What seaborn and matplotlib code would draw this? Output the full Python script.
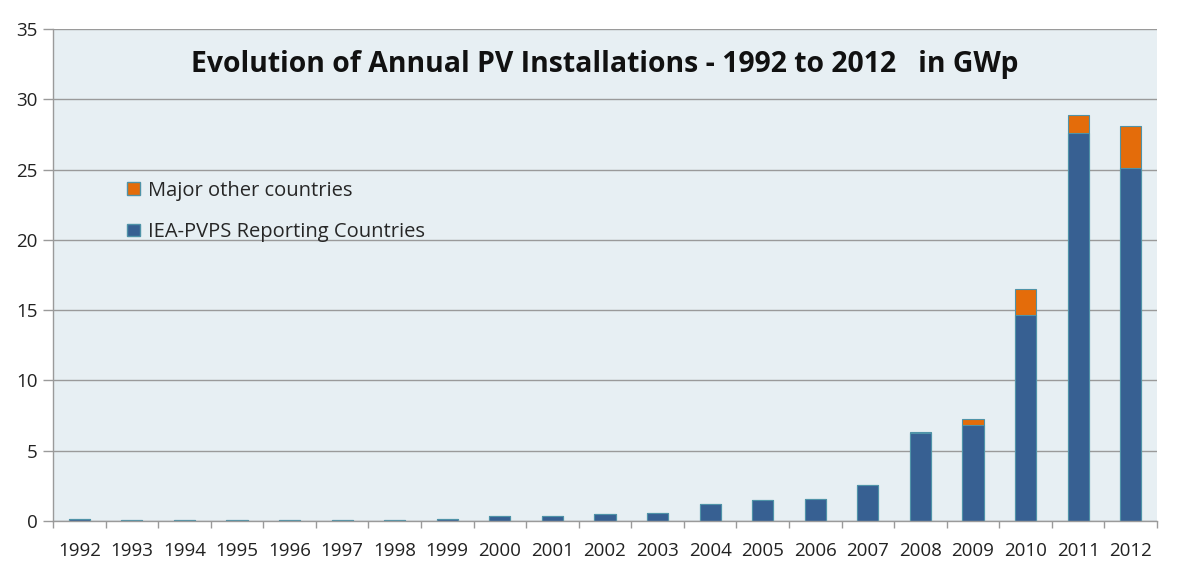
import matplotlib
matplotlib.use("Agg")
import matplotlib.pyplot as plt
import seaborn as sns
import pandas as pd
import numpy as np
from matplotlib.patches import Patch

years = ["1992", "1993", "1994", "1995", "1996", "1997", "1998", "1999", "2000", "2001",
         "2002", "2003", "2004", "2005", "2006", "2007", "2008", "2009", "2010", "2011", "2012"]
iea = [0.12, 0.07, 0.07, 0.07, 0.07, 0.07, 0.07, 0.13, 0.35, 0.36,
       0.48, 0.55, 1.18, 1.46, 1.55, 2.53, 6.24, 6.85, 14.65, 27.6, 25.1]
other = [0.0, 0.0, 0.0, 0.0, 0.0, 0.0, 0.0, 0.0, 0.0, 0.0,
         0.0, 0.0, 0.0, 0.0, 0.0, 0.0, 0.1, 0.4, 1.85, 1.3, 3.0]
yticks = [0, 5, 10, 15, 20, 25, 30, 35]

df = pd.DataFrame({"year": years, "iea": iea, "other": other})
df["total"] = df["iea"] + df["other"]

BLUE = "#376092"
ORANGE = "#E46C0A"
BG = "#E7EFF3"

sns.set_theme(style="white")
plt.rcParams["font.family"] = ["Open Sans", "DejaVu Sans"]

fig = plt.figure(figsize=(11.92, 5.66), dpi=100)
ax = fig.add_axes([53 / 1192, 1 - 521 / 566, (1157 - 53) / 1192, (521 - 29) / 566])
ax.set_facecolor(BG)

sns.barplot(data=df, x="year", y="total", color=ORANGE, width=0.4, ax=ax,
            edgecolor="#4F93A8", linewidth=0.8, saturation=1)
sns.barplot(data=df, x="year", y="iea", color=BLUE, width=0.4, ax=ax,
            edgecolor="#4F93A8", linewidth=0.8, saturation=1)

ax.set_ylim(0, 35)
ax.set_xlim(-0.5, len(years) - 0.5)
ax.set_yticks(yticks)
ax.set_yticklabels([str(t) for t in yticks], fontsize=13.5, color="#222222")
ax.yaxis.grid(True, color="#9A9A9A", linewidth=1)
ax.set_axisbelow(True)
ax.set_xlabel("")
ax.set_ylabel("")

ax.tick_params(axis="x", which="major", length=0, labelsize=13.5, labelcolor="#222222", pad=15)
ax.set_xticks(np.arange(-0.5, len(years) + 0.5, 1), minor=True)
ax.tick_params(axis="x", which="minor", length=5, color="#9A9A9A", width=1, direction="out", bottom=True)
ax.tick_params(axis="y", which="major", length=7, color="#9A9A9A", width=1, direction="out", left=True, pad=4)

for s in ["top", "right"]:
    ax.spines[s].set_visible(False)
for s in ["left", "bottom"]:
    ax.spines[s].set_visible(True)
    ax.spines[s].set_color("#9A9A9A")
    ax.spines[s].set_linewidth(1)

ax.text(0.5, 0.928, "Evolution of Annual PV Installations - 1992 to 2012   in GWp",
        transform=ax.transAxes, ha="center", va="center", fontsize=20.4, fontweight="bold",
        color="#111111")

handles = [Patch(facecolor=ORANGE, edgecolor="#4F93A8", label="Major other countries"),
           Patch(facecolor=BLUE, edgecolor="#4F93A8", label="IEA-PVPS Reporting Countries")]
ax.legend(handles=handles, loc="upper left", bbox_to_anchor=(0.051, 0.728), frameon=False,
          fontsize=14.5, handlelength=0.6, handleheight=0.6, handletextpad=0.4, labelspacing=1.05)

fig.savefig("out.png", dpi=100, facecolor="white")
